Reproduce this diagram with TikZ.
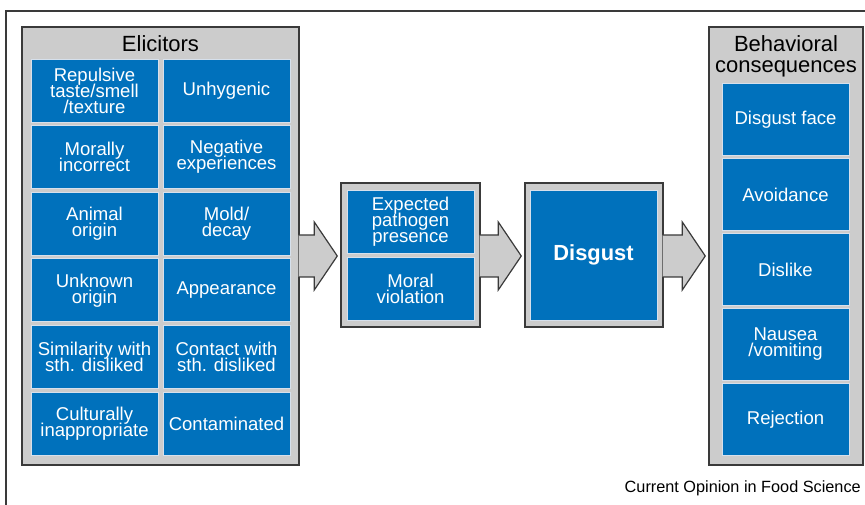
\documentclass[tikz,border=0pt]{standalone}
\usepackage{fontspec}
\setmainfont{Liberation Sans}
\usetikzlibrary{calc,positioning}
\definecolor{cellblue}{RGB}{0,113,188}
\definecolor{panelgray}{RGB}{204,204,204}
\definecolor{edgegray}{RGB}{58,58,58}
\definecolor{celledge}{RGB}{214,224,236}
\newcommand{\px}{0.75pt}
\newcommand{\tightlines}{\setlength{\lineskiplimit}{-20pt}}
\newcommand{\flowarrow}[2]{%
  \coordinate (#1tip) at ($(#2.west |- 0,256)+(-3,0)$);
  \filldraw[grayarrow] ($(#1.east |- 0,235)+(-1,0)$) -- ($(#1tip)+(-23,-21)$)
    -- ($(#1tip)+(-23,-34)$) -- (#1tip) -- ($(#1tip)+(-23,34)$)
    -- ($(#1tip)+(-23,21)$) -- ($(#1.east |- 0,277)+(-1,0)$);
}
\tikzset{
  panel/.style={draw=edgegray, fill=panelgray, line width=1.1pt, inner sep=0},
  cell/.style={draw=celledge, fill=cellblue, line width=0.6pt, text=white,
    align=center, inner sep=0, minimum width=127*\px, minimum height=63*\px,
    font=\fontsize{13.9}{12}\selectfont\tightlines},
  paneltitle/.style={align=center, inner sep=0,
    font=\fontsize{16.5}{15.8}\selectfont\tightlines},
  grayarrow/.style={draw=edgegray, fill=panelgray, line width=0.9pt, line join=miter}
}
\begin{document}
\begin{tikzpicture}[x=0.75pt,y=-0.75pt]
       \useasboundingbox (0,0) rectangle (865,505);
       \draw[edgegray, line width=1pt] (6,505) |- (865,11);
       % elicitors
       \node[panel, minimum width=277*\px, minimum height=438*\px] (elic) at (160.5,246) {};
       \node[paneltitle] (elictitle) at (160.5,44) {Elicitors};
       \node[cell] (taste) at (94.5,90.5) {Repulsive\\taste/smell\\/texture};
       \node[cell] (hygiene) at (226.5,90.5) {Unhygenic};
       \node[cell] (moral) at (94.5,157.1) {Morally\\incorrect};
       \node[cell] (negexp) at (226.5,157.1) {Negative\\experiences};
       \node[cell] (animal) at (94.5,223.7) {Animal\\origin};
       \node[cell] (mold) at (226.5,223.7) {Mold/\\decay};
       \node[cell] (unknown) at (94.5,290.3) {Unknown\\origin};
       \node[cell] (appear) at (226.5,290.3) {Appearance};
       \node[cell] (similar) at (94.5,356.9) {Similarity with\\sth. disliked};
       \node[cell] (contact) at (226.5,356.9) {Contact with\\sth. disliked};
       \node[cell] (culture) at (94.5,423.5) {Culturally\\inappropriate};
       \node[cell] (contam) at (226.5,423.5) {Contaminated};
       % appraisal
       \node[panel, minimum width=139*\px, minimum height=144*\px] (cue) at (410.5,255) {};
       \node[cell] (pathogen) at (410.5,221.5) {Expected\\pathogen\\presence};
       \node[cell] (violation) at (410.5,288.5) {Moral\\violation};
       % emotion
       \node[panel, minimum width=138*\px, minimum height=144*\px] (disg) at (594,255) {};
       \node[cell, minimum height=130*\px, font=\fontsize{16.4}{18}\selectfont\bfseries] (disgust) at (593.5,255) {Disgust};
       % consequences
       \node[panel, minimum width=154*\px, minimum height=438*\px] (beh) at (786,246) {};
       \node[paneltitle] (behtitle) at (786,56) {Behavioral\\consequences};
       \node[cell, minimum height=72*\px] (face) at (785.5,119.5) {Disgust face};
       \node[cell, minimum height=72*\px] (avoid) at (785.5,194.5) {Avoidance};
       \node[cell, minimum height=72*\px] (dislike) at (785.5,269.5) {Dislike};
       \node[cell, minimum height=72*\px] (nausea) at (785.5,344.5) {Nausea\\/vomiting};
       \node[cell, minimum height=72*\px] (reject) at (785.5,419.5) {Rejection};
       \flowarrow{elic}{cue}
       \flowarrow{cue}{disg}
       \flowarrow{disg}{beh}
       \node[anchor=east, inner sep=0, font=\fontsize{12.2}{14}\selectfont] (source) at (861,488) {Current Opinion in Food Science};
\end{tikzpicture}
\end{document}
